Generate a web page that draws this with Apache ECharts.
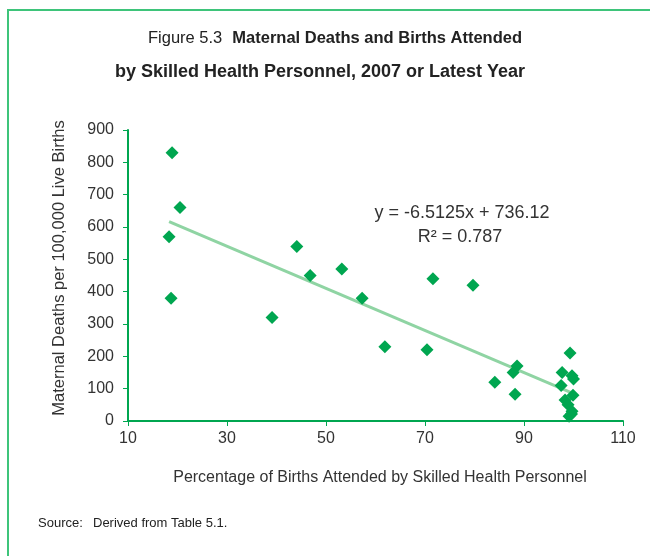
<!DOCTYPE html>
<html><head><meta charset="utf-8">
<script src="https://cdn.jsdelivr.net/npm/echarts@6/dist/echarts.min.js"></script>
<style>html,body{margin:0;padding:0;background:#fff}#c{width:650px;height:556px}</style>
</head><body><div id="c"></div>
<script>
// Percentage of births attended by skilled health personnel
const births = [18.9, 20.5, 18.3, 18.7, 39.1, 44.1, 46.8, 53.2, 57.3, 61.9, 70.4, 71.6, 79.7, 84.1, 88.2, 88.6, 87.8, 97.5, 97.7, 99.3, 99.7, 100.0, 99.9, 98.3, 98.9, 99.7, 99.1, 99.6];
// Maternal deaths per 100,000 live births
const deaths = [830, 660, 570, 380, 320, 540, 450, 470, 380, 230, 220, 440, 420, 120, 83, 170, 150, 110, 150, 210, 140, 130, 80, 65, 50, 30, 15, 22];
// Linear trend from the chart's own equation
const slope = -6.5125;
const intercept = 736.12;
const rSquared = '0.787';
const xTicks = [10, 30, 50, 70, 90, 110];
const yTicks = [0, 100, 200, 300, 400, 500, 600, 700, 800, 900];

const points = births.map((b, i) => [b, deaths[i]]);
const xMin = Math.min(...births), xMax = Math.max(...births);
const trend = [[xMin, slope * xMin + intercept], [xMax, slope * xMax + intercept]];

const AX = '#00a650';
const FONT = '"Liberation Sans", Arial, sans-serif';

const chart = echarts.init(document.getElementById('c'), null, {renderer: 'canvas'});
chart.setOption({
  animation: false,
  backgroundColor: '#fff',
  title: [
    {
      text: '{n|Figure 5.3}  {b|Maternal Deaths and Births Attended}',
      left: 330, top: 24, textAlign: 'center',
      textStyle: {rich: {
        n: {fontFamily: FONT, fontSize: 16.5, fontWeight: 'normal', color: '#222'},
        b: {fontFamily: FONT, fontSize: 16.5, fontWeight: 'bold', color: '#222'}
      }}
    },
    {
      text: 'by Skilled Health Personnel, 2007 or Latest Year',
      left: 315, top: 58, textAlign: 'center',
      textStyle: {fontFamily: FONT, fontSize: 18, fontWeight: 'bold', color: '#222'}
    }
  ],
  graphic: [
    {type: 'line', shape: {x1: 7, y1: 10, x2: 650, y2: 10}, style: {stroke: '#3ec47a', lineWidth: 2}},
    {type: 'line', shape: {x1: 8, y1: 10, x2: 8, y2: 556}, style: {stroke: '#3ec47a', lineWidth: 2}},
    {type: 'text', x: 462, y: 213, style: {text: 'y = ' + slope + 'x + ' + intercept.toFixed(2), fontFamily: FONT, fontSize: 18, fill: '#333', align: 'center', verticalAlign: 'middle'}},
    {type: 'text', x: 460, y: 237, style: {text: 'R\u00B2 = ' + rSquared, fontFamily: FONT, fontSize: 18, fill: '#333', align: 'center', verticalAlign: 'middle'}},
    {type: 'text', x: 38, y: 523, style: {text: 'Source:', fontFamily: FONT, fontSize: 13, fill: '#222', verticalAlign: 'middle'}},
    {type: 'text', x: 93, y: 523, style: {text: 'Derived from Table 5.1.', fontFamily: FONT, fontSize: 13, fill: '#222', verticalAlign: 'middle'}}
  ],
  grid: {left: 128, right: 27, top: 130, bottom: 135, containLabel: false},
  xAxis: {
    type: 'value', min: xTicks[0], max: xTicks[xTicks.length - 1], interval: 20,
    name: 'Percentage of Births Attended by Skilled Health Personnel',
    nameLocation: 'middle', nameGap: 49,
    nameTextStyle: {fontFamily: FONT, fontSize: 16, color: '#333', padding: [0, 0, 0, 9]},
    axisLine: {lineStyle: {color: AX, width: 2}},
    axisTick: {show: true, length: 5, lineStyle: {color: AX}},
    axisLabel: {fontFamily: FONT, fontSize: 16, color: '#333', margin: 10},
    splitLine: {show: false}
  },
  yAxis: {
    type: 'value', min: yTicks[0], max: yTicks[yTicks.length - 1], interval: 100,
    name: 'Maternal Deaths per 100,000 Live Births',
    nameLocation: 'middle', nameGap: 60, nameRotate: 90,
    nameTextStyle: {fontFamily: FONT, fontSize: 16.5, color: '#333', padding: [0, 0, 0, 15]},
    axisLine: {show: true, lineStyle: {color: AX, width: 2}},
    axisTick: {show: true, length: 5, lineStyle: {color: AX}},
    axisLabel: {fontFamily: FONT, fontSize: 16, color: '#333', margin: 14},
    splitLine: {show: false}
  },
  series: [
    {
      type: 'line', data: trend, symbol: 'none', z: 2,
      lineStyle: {color: '#8fd4a3', width: 3}
    },
    {
      type: 'scatter', data: points, symbol: 'diamond', symbolSize: 13, z: 3,
      itemStyle: {color: '#00a650', opacity: 1}
    }
  ]
});
</script>
</body></html>
